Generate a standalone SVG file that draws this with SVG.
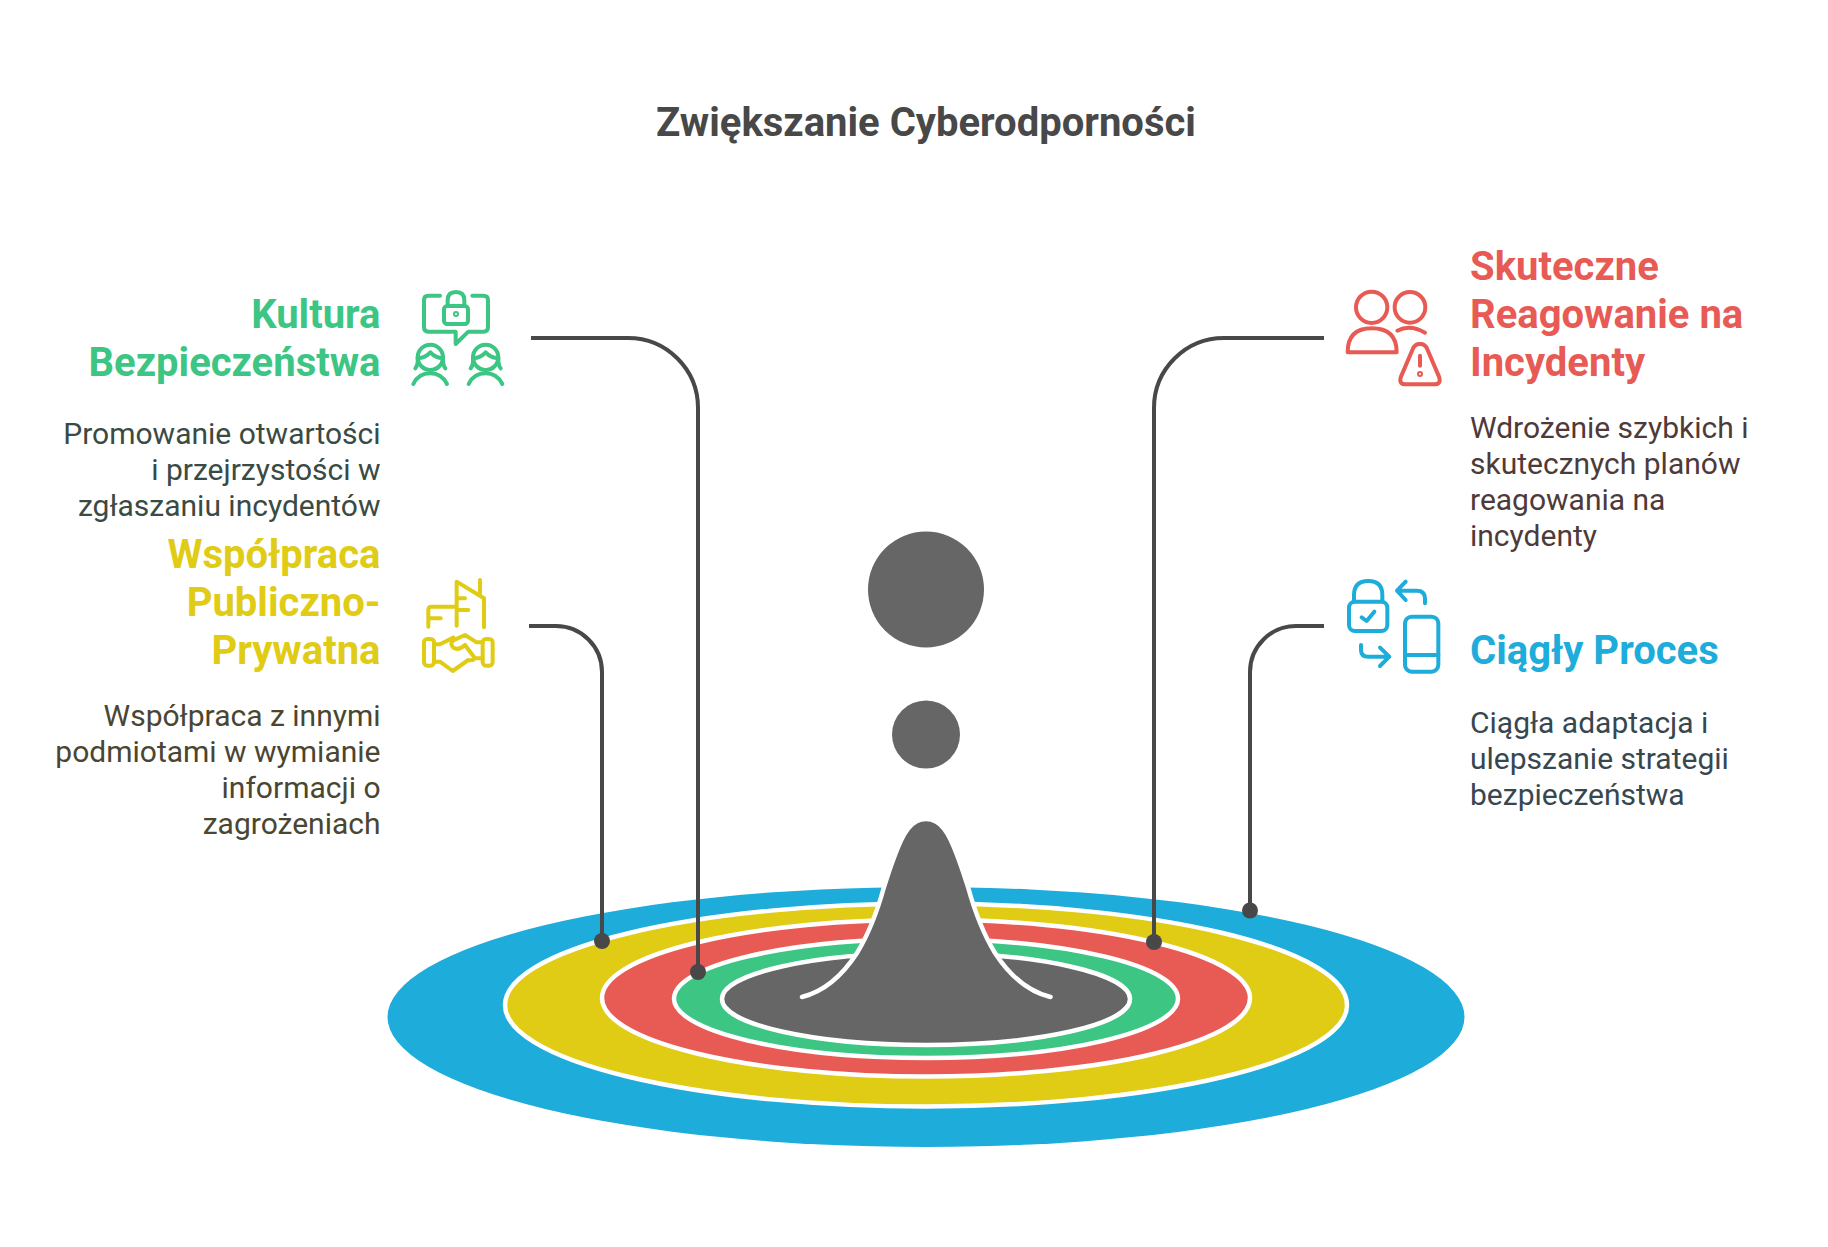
<svg xmlns="http://www.w3.org/2000/svg" width="1828" height="1247" viewBox="0 0 1828 1247">
<style>
text{font-family:Roboto,"Liberation Sans",sans-serif}
.title{font-size:40px;font-weight:700;fill:#484848;text-anchor:middle}
.h{font-size:40px;font-weight:700}
.b{font-size:30px;font-weight:400}
.end{text-anchor:end}
.ring{stroke:#fff;stroke-width:4.500}
.conn{fill:none;stroke:#484848;stroke-width:4}
.dot{fill:#484848}
.ic{fill:none;stroke-width:12;stroke-linecap:round;stroke-linejoin:round}
</style>
<rect width="1828" height="1247" fill="#fff"/>
<text class="title" x="926" y="136">Zwiększanie Cyberodporności</text>
<g id="rings">
<ellipse cx="926" cy="1017" rx="538.5" ry="130" fill="#1EACDB"/>
<ellipse class="ring" cx="926" cy="1005" rx="421" ry="101.5" fill="#E0CB15"/>
<ellipse class="ring" cx="926" cy="998" rx="324" ry="78.5" fill="#E85A54"/>
<ellipse class="ring" cx="926" cy="998.500" rx="252" ry="59.5" fill="#3CC583"/>
<ellipse class="ring" cx="926" cy="999" rx="204" ry="46" fill="#666"/>
</g>
<g id="drop">
<circle cx="926" cy="589.500" r="58" fill="#666"/>
<circle cx="926" cy="734.5" r="34" fill="#666"/>
<path d="M802,997 C826,991 844,973 857,953 C868,935 876,916 884,887 C887,878 890,868 895,855 C903,833 911,819 926,819 C941,819 949,833 957,855 C962,868 965,878 968,887 C976,916 984,935 995,953 C1008,973 1026,991 1050.500,997 Z" fill="#666" stroke="none"/>
<path d="M802,997 C826,991 844,973 857,953 C868,935 876,916 884,887 C887,878 890,868 895,855 C903,833 911,819 926,819 C941,819 949,833 957,855 C962,868 965,878 968,887 C976,916 984,935 995,953 C1008,973 1026,991 1050.500,997" fill="none" stroke="#fff" stroke-width="4.500" stroke-linecap="round"/>
</g>
<g id="connectors">
<path class="conn" d="M531,338 H628 A70,70 0 0 1 698,408 V972"/>
<circle class="dot" cx="698" cy="972" r="8"/>
<path class="conn" d="M529,626 H556 A46,46 0 0 1 602,672 V941"/>
<circle class="dot" cx="602" cy="941" r="8"/>
<path class="conn" d="M1324,338 H1224 A70,70 0 0 0 1154,408 V942"/>
<circle class="dot" cx="1154" cy="942" r="8"/>
<path class="conn" d="M1324,626 H1296 A46,46 0 0 0 1250,672 V910"/>
<circle class="dot" cx="1250" cy="910.500" r="8"/>
</g>
<g id="kultura">
<text class="h end" fill="#3CC583"><tspan x="380.500" y="328">Kultura</tspan><tspan x="380.500" y="376">Bezpieczeństwa</tspan></text>
<text class="b end" fill="#3A4A44"><tspan x="380.500" y="444">Promowanie otwartości</tspan><tspan x="380.500" y="480">i przejrzystości w</tspan><tspan x="380.500" y="516">zgłaszaniu incydentów</tspan></text>
<g class="ic" stroke="#3CC583" transform="translate(400,270) scale(.3333)">
<path d="M120,77 H85 Q72,77 72,90 V172 Q72,185 85,185 H167 V222 L205,185 H250 Q264,185 264,172 V90 Q264,77 250,77 H217"/>
<rect x="132" y="108" width="72" height="54" rx="10"/>
<path d="M143,108 V90 Q143,66 168,66 Q193,66 193,90 V108"/>
<circle cx="168" cy="132" r="3"/>
<g id="p1"><circle cx="91" cy="262" r="38"/><path d="M55,264 Q75,264 91,247 Q107,264 128,264 M46,295 Q55,285 53,262 M136,295 Q128,285 129,262 M40,342 Q55,310 91,310 Q125,310 141,342"/></g>
<g transform="translate(166,0)"><circle cx="91" cy="262" r="38"/><path d="M55,264 Q75,264 91,247 Q107,264 128,264 M46,295 Q55,285 53,262 M136,295 Q128,285 129,262 M40,342 Q55,310 91,310 Q125,310 141,342"/></g>
</g>
</g>
<g id="wspolpraca">
<text class="h end" fill="#E0CB15"><tspan x="380.500" y="568">Współpraca</tspan><tspan x="380.500" y="616">Publiczno-</tspan><tspan x="380.500" y="664">Prywatna</tspan></text>
<text class="b end" fill="#4A4632"><tspan x="380.500" y="726">Współpraca z innymi</tspan><tspan x="380.500" y="762">podmiotami w wymianie</tspan><tspan x="380.500" y="798">informacji o</tspan><tspan x="380.500" y="834">zagrożeniach</tspan></text>
<g class="ic" stroke="#E0CB15" transform="translate(410,565) scale(.3333)">
<path d="M140,182 V50 L222,100 V187 M210,45 V85 M140,100 H165 M140,135 H175 M55,185 V135 Q55,125 65,125 H140 M55,160 H92"/>
<rect x="42" y="222" width="30" height="80" rx="10"/>
<rect x="218" y="222" width="30" height="80" rx="10"/>
<path d="M72,238 H90 L130,218 M218,232 H200 L165,210 L130,226 Q118,235 130,248 Q145,258 165,240 L195,280 Q188,288 175,285 L128,318 L90,290 H72 M195,280 H218"/>
</g>
</g>
<g id="skuteczne">
<text class="h" fill="#E85A54"><tspan x="1470" y="280">Skuteczne</tspan><tspan x="1470" y="328">Reagowanie na</tspan><tspan x="1470" y="376">Incydenty</tspan></text>
<text class="b" fill="#4F3A3A"><tspan x="1470" y="438">Wdrożenie szybkich i</tspan><tspan x="1470" y="474">skutecznych planów</tspan><tspan x="1470" y="510">reagowania na</tspan><tspan x="1470" y="546">incydenty</tspan></text>
<g class="ic" stroke="#E85A54" transform="translate(1335,275) scale(.3333)">
<circle cx="110" cy="97" r="47"/><circle cx="225" cy="97" r="46"/>
<path d="M38,232 H185 Q185,160 110,160 Q38,160 38,232 Z M187,167 Q225,147 270,173"/>
<path d="M255,207 Q243,205 235,218 L198,305 Q190,328 212,328 H298 Q320,328 312,305 L275,218 Q267,205 255,207 Z M255,242 V272"/>
<circle cx="255" cy="297" r="3"/>
</g>
</g>
<g id="ciagly">
<text class="h" fill="#1EACDB" x="1470" y="664">Ciągły Proces</text>
<text class="b" fill="#37474F"><tspan x="1470" y="733">Ciągła adaptacja i</tspan><tspan x="1470" y="769">ulepszanie strategii</tspan><tspan x="1470" y="805">bezpieczeństwa</tspan></text>
<g class="ic" stroke="#1EACDB" transform="translate(1335,570) scale(.3333)">
<rect x="42" y="95" width="115" height="88" rx="18"/>
<path d="M57,95 V75 Q57,33 100,33 Q142,33 142,75 V95 M80,142 L95,153 L118,125"/>
<path d="M270,100 V85 Q270,62 245,62 H190 M212,35 L186,62 L212,90"/>
<path d="M78,225 V240 Q78,260 100,260 H160 M135,233 L163,260 L135,288"/>
<rect x="210" y="140" width="100" height="165" rx="20"/>
<path d="M210,255 H310"/>
</g>
</g>
</svg>
